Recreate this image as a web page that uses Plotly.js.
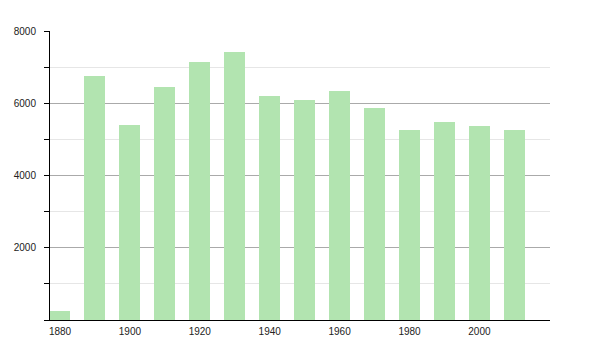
<!DOCTYPE html>
<html>
<head>
<meta charset="utf-8">
<script src="https://cdn.plot.ly/plotly-3.0.1.min.js"></script>
<style>html,body{margin:0;padding:0;background:#fff;}#chart{width:600px;height:350px;}</style>
</head>
<body>
<div id="chart"></div>
<script>
const years = [1880, 1890, 1900, 1910, 1920, 1930, 1940, 1950, 1960, 1970, 1980, 1990, 2000, 2010];
const population = [250, 6750, 5400, 6440, 7140, 7420, 6200, 6090, 6340, 5880, 5260, 5480, 5370, 5260];
const xTickLabels = [1880, 1900, 1920, 1940, 1960, 1980, 2000];
const yTickLabels = [2000, 4000, 6000, 8000];

const trace = {
  type: 'bar',
  x: years,
  y: population,
  width: 6,
  marker: {color: 'rgb(178,228,176)', line: {width: 0}},
  hoverinfo: 'x+y'
};

const layout = {
  width: 600, height: 350,
  margin: {l: 50, r: 50, t: 31, b: 30, pad: 0},
  paper_bgcolor: '#fff', plot_bgcolor: '#fff',
  showlegend: false,
  font: {family: 'Liberation Sans, Arial, sans-serif', size: 10, color: '#222'},
  xaxis: {
    range: [1877.14, 2020.2],
    tickvals: xTickLabels,
    ticktext: xTickLabels.map(String),
    showgrid: false, zeroline: false,
    showline: true, linecolor: '#000', linewidth: 1,
    ticks: '', ticklabelstandoff: 2
  },
  yaxis: {
    range: [0, 8000],
    tickvals: yTickLabels,
    ticktext: yTickLabels.map(String),
    showgrid: true, gridcolor: '#aaaaaa', gridwidth: 1,
    zeroline: false,
    showline: true, linecolor: '#000', linewidth: 1,
    ticks: 'outside', ticklen: 5, tickcolor: '#000', tickwidth: 1,
    ticklabelstandoff: 6,
    minor: {dtick: 1000, tick0: 0, ticks: 'outside', ticklen: 5, tickcolor: '#000', showgrid: true, gridcolor: '#e6e6e6', gridwidth: 1}
  },
  bargap: 0
};

Plotly.newPlot('chart', [trace], layout, {displayModeBar: false, staticPlot: true});
</script>
</body>
</html>
